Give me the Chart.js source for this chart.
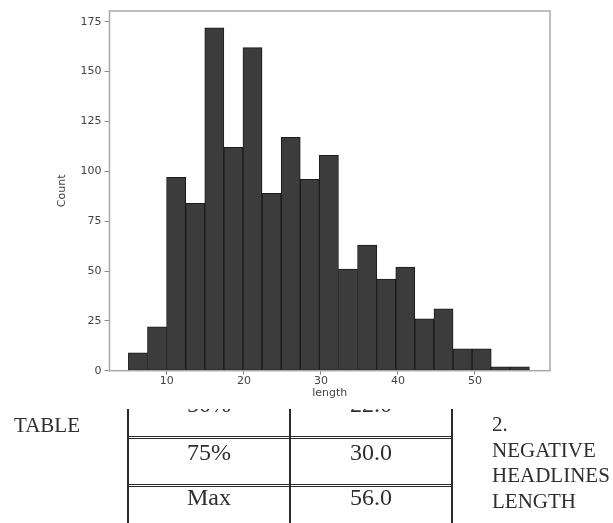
<!DOCTYPE html>
<html>
<head>
<meta charset="utf-8">
<script src="https://cdn.jsdelivr.net/npm/chart.js@4"></script>
<style>
html, body { margin: 0; padding: 0; background: #fff; }
#wrap { position: relative; width: 613px; height: 523px; overflow: hidden; }
#hist { position: absolute; left: 0; top: 0; }
#table-part { position: absolute; left: 0; top: 409px; width: 613px; height: 114px; overflow: hidden;
  font-family: "Liberation Serif", "Times New Roman", serif; color: #2e2e2e; }
#table-part .inner { position: absolute; left: 0; top: -409px; width: 613px; height: 523px; }
.cell { position: absolute; width: 162px; text-align: center; font-size: 24px; line-height: 24px; white-space: nowrap; }
.vline { position: absolute; top: 380px; height: 160px; background: #2a2a2a; }
.hline { position: absolute; left: 128px; width: 324px; height: 0; border-top: 3px double #2a2a2a; }
.side { position: absolute; font-size: 21px; white-space: nowrap; }
</style>
</head>
<body>
<div id="wrap">
  <canvas id="hist" width="613" height="523"></canvas>
  <div id="table-part">
    <div class="inner">
      <div class="side" style="left:14px; top:415px; line-height:21px;">TABLE</div>
      <div class="vline" style="left:127px; width:1.5px;"></div>
      <div class="vline" style="left:289px; width:2px;"></div>
      <div class="vline" style="left:451px; width:1.5px;"></div>
      <div class="hline" style="top:436px;"></div>
      <div class="hline" style="top:484px;"></div>
      <div id="cells"></div>
      <div class="side" style="left:492px; top:412px; line-height:25.5px;">2.<br>NEGATIVE<br>HEADLINES<br>LENGTH</div>
    </div>
  </div>
</div>
<script>
// histogram of negative headline length
const binStarts = [5.0, 7.48, 9.96, 12.44, 14.92, 17.40, 19.88, 22.36, 24.84, 27.32, 29.80,
                   32.28, 34.76, 37.24, 39.72, 42.20, 44.68, 47.16, 49.64, 52.12, 54.60];
const binWidth = 2.48;
const counts = [9, 22, 97, 84, 172, 112, 162, 89, 117, 96, 108,
                51, 63, 46, 52, 26, 31, 11, 11, 2, 2];

// describe() rows visible under the plot
const statNames = ['50%', '75%', 'Max'];
const statValues = ['22.0', '30.0', '56.0'];
const rowBaselines = [412, 460, 505];

function buildCells() {
    const box = document.getElementById('cells');
    statNames.forEach((name, i) => {
        const top = rowBaselines[i] - 20;
        box.innerHTML += `<div class="cell" style="left:128px; top:${top}px;">${name}</div>`;
        box.innerHTML += `<div class="cell" style="left:290px; top:${top}px;">${statValues[i]}</div>`;
    });
}

const framePlugin = {
    id: 'frame',
    afterDatasetsDraw(chart) {
        const { ctx, chartArea: a } = chart;
        ctx.save();
        ctx.strokeStyle = '#a9a9a9';
        ctx.lineWidth = 1.5;
        ctx.strokeRect(a.left, a.top, a.right - a.left, a.bottom - a.top);
        ctx.restore();
    }
};

function renderChart() {
    const points = binStarts.map((s, i) => ({ x: s + binWidth / 2, y: counts[i] }));
    const tickFont = { family: 'DejaVu Sans', size: 11 };
    new Chart(document.getElementById('hist').getContext('2d'), {
        type: 'bar',
        data: {
            datasets: [{
                data: points,
                backgroundColor: '#3c3c3c',
                borderColor: '#1a1a1a',
                borderWidth: 1,
                borderSkipped: false,
                categoryPercentage: 1.0,
                barPercentage: 1.0
            }]
        },
        options: {
            responsive: false,
            animation: false,
            layout: { padding: { left: 52, top: 11, right: 63, bottom: 120 } },
            plugins: { legend: { display: false }, tooltip: { enabled: false } },
            scales: {
                x: {
                    type: 'linear',
                    offset: false,
                    min: 2.55,
                    max: 59.75,
                    afterFit: s => { s.height = 32.3; },
                    border: { display: false },
                    grid: { offset: false, drawOnChartArea: false, drawTicks: true, tickLength: 4, color: '#8a8a8a' },
                    ticks: { stepSize: 10, includeBounds: false, padding: 0, color: '#444', font: tickFont },
                    title: { display: true, text: 'length', color: '#444', font: tickFont, padding: { top: 0, bottom: 3 } }
                },
                y: {
                    min: 0,
                    max: 180.4,
                    afterFit: s => { s.width = 57.5; },
                    border: { display: false },
                    grid: { drawOnChartArea: false, drawTicks: true, tickLength: 5, color: '#8a8a8a' },
                    ticks: { stepSize: 25, includeBounds: false, padding: 3, color: '#444', font: tickFont },
                    title: { display: true, text: 'Count', color: '#444', font: tickFont }
                }
            }
        },
        plugins: [framePlugin]
    });
}

buildCells();
renderChart();
</script>
</body>
</html>
